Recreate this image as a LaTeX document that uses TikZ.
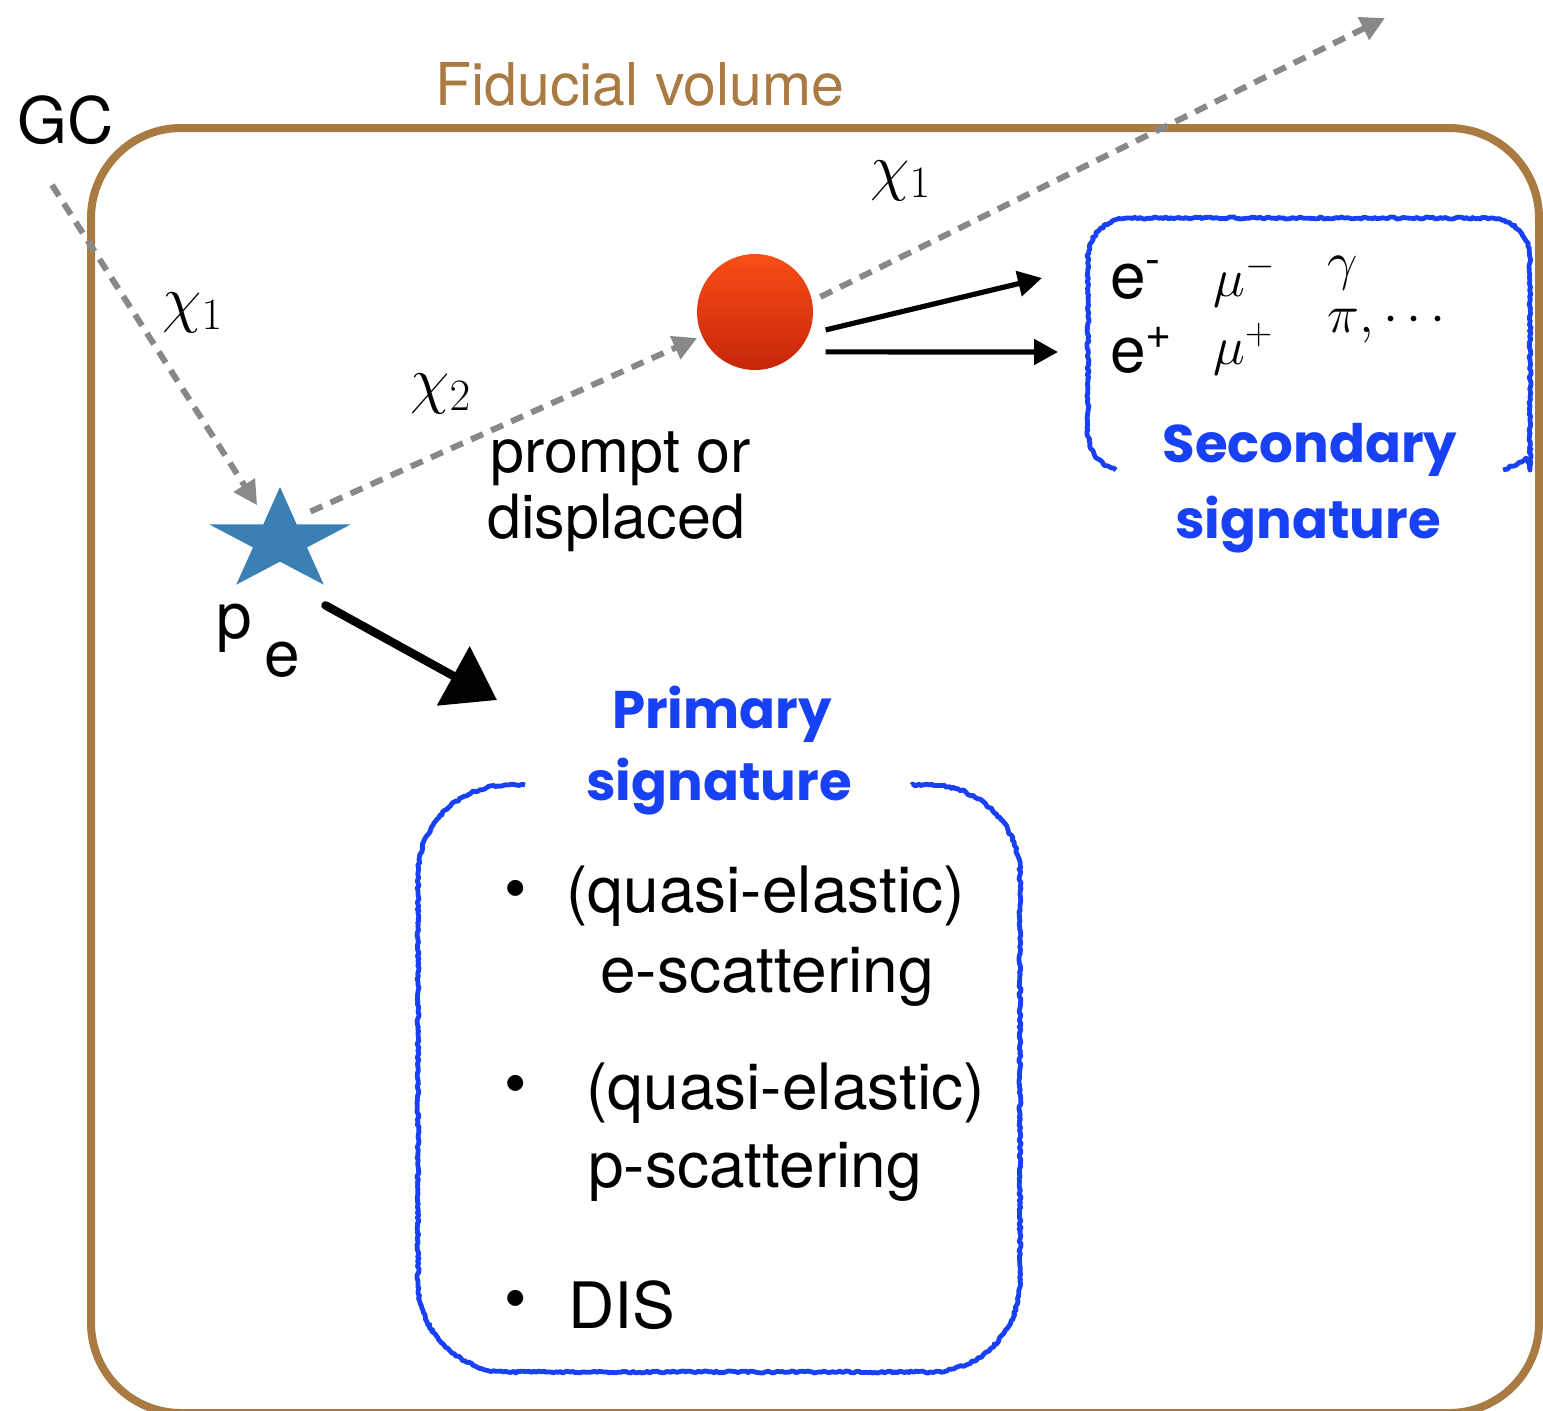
\RequirePackage{fix-cm}
\documentclass[tikz,border=0pt]{standalone}
\usepackage[no-math]{fontspec}
\setmainfont{TeX Gyre Heros}
\newfontfamily\handfont{Poppins}
\usetikzlibrary{arrows.meta,decorations.pathmorphing,calc}

\definecolor{brownbox}{RGB}{169,123,67}
\definecolor{dashgray}{RGB}{136,136,136}
\definecolor{starblue}{RGB}{58,128,181}
\definecolor{sigblue}{RGB}{24,64,245}
\definecolor{dottop}{RGB}{248,78,24}
\definecolor{dotbot}{RGB}{198,38,8}

\begin{document}
\begin{tikzpicture}[x=0.5pt,y=-0.5pt,
  txt/.style={font=\fontsize{32}{38}\selectfont, inner sep=0pt, anchor=base west},
  midtxt/.style={font=\fontsize{30.5}{36}\selectfont, inner sep=0pt, anchor=base west},
  fidtxt/.style={font=\fontsize{29.5}{36}\selectfont, inner sep=0pt, anchor=base west, text=brownbox},
  mathtxt/.style={font=\fontsize{27}{31}\selectfont, inner sep=0pt, anchor=base west},
  chitxt/.style={font=\fontsize{32}{38}\selectfont, inner sep=0pt, anchor=base west},
  handtxt/.style={font=\handfont\bfseries\fontsize{26.5}{32}\selectfont, inner sep=0pt, anchor=base, text=sigblue},
  chiline/.style={draw=dashgray, line width=3pt, dash pattern=on 6.5pt off 4.5pt,
     -{Triangle[length=12pt,width=12pt]}},
  decayarrow/.style={draw=black, line width=2.6pt, -{Triangle[length=12pt,width=12.5pt]}},
  sketcharrow/.style={draw=black, line width=4.2pt, line cap=round, -{Triangle[length=25pt,width=33pt]}},
  sigbox/.style={draw=sigblue, line width=2.4pt, line join=round, decorate,
     decoration={random steps, segment length=1.2pt, amplitude=0.55pt}},
  fidbox/.style={draw=brownbox, line width=4pt, rounded corners=45pt}
]
\useasboundingbox (0,0) rectangle (1543,1410);
\clip (0,0) rectangle (1543,1410);

% fiducial volume
\draw[fidbox] (91,128) rectangle (1539,1413);
\node[fidtxt] (fidlabel) at (435,105) {Fiducial volume};
\node[txt] (gc) at (17,143) {GC};

% star (primary interaction point)
\node[circle, minimum size=42pt, inner sep=0pt] (star) at (280,541) {};
\fill[starblue] (280,487) -- (296.7,524.3) -- (350.9,524.3) -- (307.0,547.4)
  -- (323.8,584.7) -- (280,561.6) -- (236.2,584.7) -- (253.0,547.4)
  -- (209.1,524.3) -- (263.3,524.3) -- cycle;
\node[txt] (plabel) at (216,638) {p};
\node[txt] (elabel) at (264,676) {e};

% decay point
\node[circle, minimum size=58pt, inner sep=0pt, draw=none,
  top color=dottop, bottom color=dotbot] (dot) at (755,312) {};

% coordinates for free ends
\coordinate (gcstart) at (52,185);
\coordinate (chiout) at (1385,18);
\coordinate (e1tip) at (1042,278);
\coordinate (e2tip) at (1058,352);
\coordinate (primtip) at (497,700);

% dashed chi lines
\draw[chiline] (gcstart) -- (star);
\draw[chiline, shorten >=2.5pt] (star.44) -- (dot);
\draw[chiline, shorten <=4.5pt] (dot.11) -- (chiout);

\node[chitxt] (chi1a) at (162,320) {$\chi_1$};
\node[chitxt] (chi2) at (410,401) {$\chi_2$};
\node[chitxt] (chi1b) at (870,188) {$\chi_1$};

\node[midtxt] (prompt) at (490,472) {prompt or};
\node[midtxt] (displ) at (487,538) {displaced};

% decay arrows
\draw[decayarrow, shorten <=8.5pt] (dot.-22) -- (e1tip);
\draw[decayarrow, shorten <=14pt] (dot.-43.6) -- (e2tip);

% secondary box
\draw[sigbox] (1116,470) .. controls (1097,463) and (1088,452) .. (1088,430)
  [rounded corners=20pt] -- (1088,218) -- (1530,218) -- (1530,430) [sharp corners]
  .. controls (1530,452) and (1522,463) .. (1503,470);
\node[txt] (em) at (1110,298) {e\textsuperscript{-}};
\node[txt] (ep) at (1110,372) {e\textsuperscript{+}};
\node[mathtxt] (mum) at (1213,296) {$\mu^-$};
\node[mathtxt] (mup) at (1213,364) {$\mu^+$};
\node[mathtxt] (gam) at (1327,279) {$\gamma$};
\node[mathtxt] (pidots) at (1327,332) {$\pi,\cdots$};
\node[handtxt] (sec1) at (1310,462) {Secondary};
\node[handtxt] (sec2) at (1308,538) {signature};

% primary arrow
\draw[sketcharrow, shorten <=23pt] (star.-83) -- (primtip);

% primary box
\draw[sigbox] (525,785) [rounded corners=45pt] -- (418,785) -- (418,1372)
  -- (1020,1372) -- (1020,785) [sharp corners] -- (912,785);
\node[handtxt] (pri1) at (722,728) {Primary};
\node[handtxt] (pri2) at (719,800) {signature};

\node[txt, anchor=center] (b1) at (516,895) {•};
\node[txt] (qe1) at (566,912) {(quasi-elastic)};
\node[txt] (esc) at (600,992) {e-scattering};
\node[txt, anchor=center] (b2) at (516,1090) {•};
\node[txt] (qe2) at (586,1109) {(quasi-elastic)};
\node[txt] (psc) at (588,1187) {p-scattering};
\node[txt, anchor=center] (b3) at (516,1305) {•};
\node[txt] (dis) at (568,1328) {DIS};
\end{tikzpicture}
\end{document}
